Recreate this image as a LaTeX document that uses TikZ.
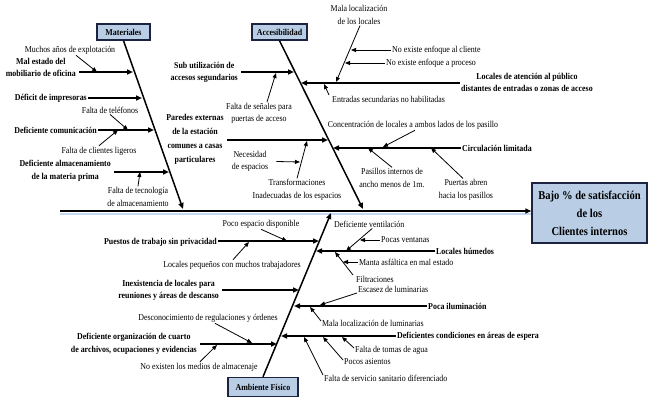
\documentclass[tikz,border=0pt]{standalone}
\usepackage{fontspec}
\setmainfont{Liberation Serif}[FakeStretch=0.88]
\usetikzlibrary{arrows.meta, positioning}
\definecolor{azulcaja}{HTML}{B9CDE5}
\definecolor{bordecaja}{HTML}{1C2340}
\definecolor{sombra}{HTML}{C6D9F1}

\begin{document}
\begin{tikzpicture}[
    x=1pt, y=-1pt,
    every node/.style={inner sep=1pt, align=center, font=\fontsize{9}{12.5}\selectfont},
    causa/.style={font=\fontsize{9}{12.5}\selectfont\bfseries},
    caja/.style={draw=bordecaja, line width=1.4pt, fill=azulcaja, font=\fontsize{9}{10}\selectfont\bfseries, inner sep=2pt},
    hueso/.style={line width=1.5pt, -{Triangle[length=6pt, width=5pt]}},
    flecha/.style={line width=1.5pt, -{Triangle[length=6pt, width=5pt]}},
    sub/.style={line width=0.8pt, -{Triangle[length=5pt, width=4pt]}}]
    \useasboundingbox (0,0) rectangle (649,404);

    % Efecto y espina principal
    \node[caja, minimum width=115pt, minimum height=60pt, font=\fontsize{12}{18}\selectfont\bfseries] (efecto) at (589.5,213) {Bajo \% de satisfacción\\de los\\Clientes internos};
    \coordinate (cola) at (60,211);
    \draw[line width=2pt, sombra] ([yshift=-3pt]cola) -- ([yshift=-3pt]efecto.west |- cola);
    \draw[hueso, line width=2pt] (cola) -- (efecto.west |- cola);

    % Materiales
    \node[caja, minimum width=53pt, minimum height=16pt] (mat) at (123.5,32) {Materiales};
    \coordinate (finMat) at (183,209);
    \draw[hueso] (mat.south) -- (finMat);

    \node[causa, anchor=east] (cMal) at (77,67.5) {Mal estado del\\mobiliario de oficina};
    \coordinate (pMal) at (133,72);
    \draw[flecha] ([xshift=2pt]cMal.east |- pMal) -- (pMal);
    \node[causa, anchor=east] (cDef) at (88,98) {Déficit de impresoras};
    \coordinate (pDef) at (142,98);
    \draw[flecha] (cDef.east) -- (pDef);
    \node[causa, anchor=east] (cCom) at (98,130) {Deficiente comunicación};
    \coordinate (pCom) at (154,130);
    \draw[flecha] (cCom.east) -- (pCom);
    \node[causa, anchor=east] (cAlm) at (112,171) {Deficiente almacenamiento\\de la materia prima};
    \coordinate (pAlm) at (169,172);
    \draw[flecha] ([xshift=2pt]cAlm.east |- pAlm) -- (pAlm);

    \node (sMuchos) at (70,50) {Muchos años de explotación};
    \coordinate (qMuchos) at (97,72);
    \draw[sub] ([xshift=6pt]sMuchos.south) -- (qMuchos);
    \node (sTel) at (110,110) {Falta de teléfonos};
    \coordinate (qTel) at (128,130);
    \draw[sub] (sTel.south) -- (qTel);
    \node (sCli) at (99,151) {Falta de clientes ligeros};
    \coordinate (qCli) at (118,130);
    \draw[sub] (sCli.north) -- (qCli);
    \node (sTec) at (138,197) {Falta de tecnología\\de almacenamiento};
    \coordinate (qTec) at (140,172);
    \draw[sub] (sTec.north) -- (qTec);

    % Accesibilidad
    \node[caja, minimum width=55pt, minimum height=16pt] (acc) at (279.5,32) {Accesibilidad};
    \coordinate (finAcc) at (363,209);
    \draw[hueso] (acc.south) -- (finAcc);

    \node[causa, anchor=east] (cSub) at (239,72.5) {Sub utilización de\\accesos segundarios};
    \coordinate (pSub) at (294,72);
    \draw[flecha] ([xshift=2pt]cSub.east |- pSub) -- (pSub);
    \node[causa, font=\fontsize{9}{14}\selectfont\bfseries] (cPar) at (195,139.5) {Paredes externas\\de la estación\\comunes a casas\\particulares};
    \coordinate (pPar) at (328,140);
    \draw[flecha] ([xshift=2pt]cPar.east |- pPar) -- (pPar);
    \node[causa, anchor=west] (cLoc) at (460,82.5) {Locales de atención al público\\distantes de entradas o zonas de acceso};
    \coordinate (pLoc) at (301,83);
    \draw[flecha] (cLoc.west |- pLoc) -- (pLoc);
    \node[causa, anchor=west] (cCir) at (461,148) {Circulación limitada};
    \coordinate (pCir) at (333,148);
    \draw[flecha] (cCir.west) -- (pCir);

    \node (sSen) at (259,113.5) {Falta de señales para\\puertas de acceso};
    \coordinate (qSen) at (276,73);
    \draw[sub] ([xshift=8pt]sSen.north) -- (qSen);
    \node (sNec) at (250,161.5) {Necesidad\\de espacios};
    \coordinate (qNec) at (300,162);
    \draw[sub] ([xshift=7pt]sNec.east) -- (qNec);
    \node (sTra) at (297,190) {Transformaciones\\Inadecuadas de los espacios};
    \coordinate (qTra) at (307,141);
    \draw[sub] (sTra.north) -- (qTra);
    \node (sMala) at (359,15) {Mala localización\\de los locales};
    \coordinate (qMala) at (336,82);
    \draw[sub] ([xshift=1pt]sMala.south) -- (qMala);
    \node[anchor=west] (sNoC) at (391,50) {No existe enfoque al cliente};
    \coordinate (qNoC) at (351,50);
    \draw[sub] (sNoC.west) -- (qNoC);
    \node[anchor=west] (sNoP) at (385,63) {No existe enfoque a proceso};
    \coordinate (qNoP) at (345,63);
    \draw[sub] (sNoP.west) -- (qNoP);
    \node[anchor=west] (sEnt) at (331,99) {Entradas secundarias no habilitadas};
    \coordinate (qEnt) at (324,84);
    \draw[sub] ([xshift=-2pt, yshift=4pt]sEnt.west) -- (qEnt);
    \node (sCon) at (413,125) {Concentración de locales a ambos lados de los pasillo};
    \coordinate (qCon) at (383,147);
    \draw[sub] ([xshift=2pt]sCon.south) -- (qCon);
    \node (sPas) at (392,178) {Pasillos internos de\\ancho menos de 1m.};
    \coordinate (qPas) at (368,148);
    \draw[sub] (sPas.north) -- (qPas);
    \node (sPue) at (466,190) {Puertas abren\\hacia los pasillos};
    \coordinate (qPue) at (431,148);
    \draw[sub] ([xshift=-3pt]sPue.north) -- (qPue);

    % Ambiente fisico
    \node[caja, minimum width=70pt, minimum height=19pt] (amb) at (263,387) {Ambiente Físico};
    \coordinate (finAmb) at (331,213);
    \draw[hueso] (amb.north) -- (finAmb);

    \node[causa, anchor=east] (cPri) at (218,242) {Puestos de trabajo sin privacidad};
    \coordinate (pPri) at (319,241);
    \draw[flecha] (cPri.east |- pPri) -- (pPri);
    \node[causa, anchor=east] (cIne) at (220,290.5) {Inexistencia de locales para\\reuniones y áreas de descanso};
    \coordinate (pIne) at (299,290);
    \draw[flecha] ([xshift=2pt]cIne.east |- pIne) -- (pIne);
    \node[causa, anchor=east] (cOrg) at (198,344) {Deficiente organización de cuarto\\de archivos, ocupaciones y evidencias};
    \coordinate (pOrg) at (277,344);
    \draw[flecha] ([xshift=2pt]cOrg.east |- pOrg) -- (pOrg);
    \node[causa, anchor=west] (cHum) at (435,251) {Locales húmedos};
    \coordinate (pHum) at (316,251);
    \draw[flecha] (cHum.west) -- (pHum);
    \node[causa, anchor=west] (cIlu) at (427,306) {Poca iluminación};
    \coordinate (pIlu) at (294,306);
    \draw[flecha] (cIlu.west) -- (pIlu);
    \node[causa, anchor=west] (cEsp) at (396,336) {Deficientes condiciones en áreas de espera};
    \coordinate (pEsp) at (281,336);
    \draw[flecha] (cEsp.west) -- (pEsp);

    \node (sPoco) at (261,224) {Poco espacio disponible};
    \coordinate (qPoco) at (287,241);
    \draw[sub] (sPoco.south) -- (qPoco);
    \node (sPeq) at (232,265) {Locales pequeños con muchos trabajadores};
    \coordinate (qPeq) at (249,242);
    \draw[sub] ([xshift=1pt]sPeq.north) -- (qPeq);
    \node (sDes) at (208,318) {Desconocimiento de regulaciones y órdenes};
    \coordinate (qDes) at (252,343);
    \draw[sub] ([xshift=7pt]sDes.south) -- (qDes);
    \node (sNoE) at (199,367) {No existen los medios de almacenaje};
    \coordinate (qNoE) at (217,345);
    \draw[sub] ([xshift=1pt]sNoE.north) -- (qNoE);
    \node[anchor=west] (sVen) at (333,224) {Deficiente ventilación};
    \coordinate (qVen) at (346,251);
    \draw[sub] ([xshift=3pt]sVen.south) -- (qVen);
    \node[anchor=west] (sVan) at (380,240) {Pocas ventanas};
    \coordinate (qVan) at (360,240);
    \draw[sub] (sVan.west) -- (qVan);
    \node[anchor=west] (sFil) at (355,279) {Filtraciones};
    \coordinate (qFil) at (335,252);
    \draw[sub] ([xshift=-2pt, yshift=4pt]sFil.west) -- (qFil);
    \node[anchor=west] (sMan) at (358,262) {Manta asfáltica en mal estado};
    \coordinate (qMan) at (343,262);
    \draw[sub] (sMan.west) -- (qMan);
    \node[anchor=west] (sEsc) at (357,289) {Escasez de luminarias};
    \coordinate (qEsc) at (320,305);
    \draw[sub] ([yshift=-4pt]sEsc.west) -- (qEsc);
    \node[anchor=west] (sMlu) at (321,323) {Mala localización de luminarias};
    \coordinate (qMlu) at (310,307);
    \draw[sub] ([yshift=2pt]sMlu.west) -- (qMlu);
    \node[anchor=west] (sTom) at (354,350) {Falta de tomas de agua};
    \coordinate (qTom) at (342,337);
    \draw[sub] ([yshift=2pt]sTom.west) -- (qTom);
    \node[anchor=west] (sAsi) at (343,362) {Pocos asientos};
    \coordinate (qAsi) at (323,337);
    \draw[sub] ([yshift=2pt]sAsi.west) -- (qAsi);
    \node[anchor=west] (sSan) at (323,378) {Falta de servicio sanitario diferenciado};
    \coordinate (qSan) at (304,337);
    \draw[sub] ([yshift=3pt]sSan.west) -- (qSan);
\end{tikzpicture}
\end{document}
